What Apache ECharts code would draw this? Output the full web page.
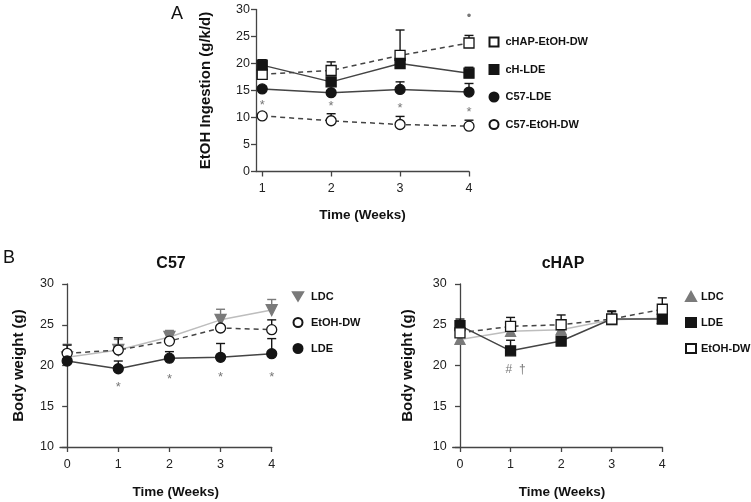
<!DOCTYPE html>
<html><head><meta charset="utf-8">
<script src="https://cdn.jsdelivr.net/npm/echarts@6/dist/echarts.min.js"></script>
<style>html,body{margin:0;padding:0;background:#fff}#c{width:751px;height:502px}</style>
</head><body><div id="c"></div>
<script>
// ---------- Panel A: EtOH ingestion ----------
const weeksA = [1, 2, 3, 4];
const aCHAPDW = [18.0, 18.7, 21.5, 23.8];
const aCHAPDWErr = [0.4, 1.6, 4.7, 1.4];
const aCHLDE = [19.7, 16.6, 20.0, 18.2];
const aCHLDEErr = [1.0, 0.4, 0.4, 1.1];
const aC57LDE = [15.3, 14.6, 15.2, 14.7];
const aC57LDEErr = [0.4, 0.4, 1.4, 1.6];
const aC57DW = [10.3, 9.4, 8.7, 8.4];
const aC57DWErr = [0.5, 1.3, 1.5, 1.1];
const aNoteX = [1, 2, 3, 4, 4];
const aNoteY = [12.3, 12.1, 11.6, 11.0, 28.8];
const aNoteText = ['*', '*', '*', '*', '\u2022'];
const aTicks = [1, 2, 3, 4];

// ---------- Panel B: body weight ----------
const weeksB = [0, 1, 2, 3, 4];
const bTicks = [0, 1, 2, 3, 4];
// C57
const c57LDC = [21.0, 21.9, 23.5, 25.6, 26.8];
const c57LDCErr = [1.6, 1.3, 0.8, 1.3, 1.3];
const c57DW = [21.5, 21.9, 23.0, 24.6, 24.4];
const c57DWErr = [1.0, 1.5, 1.1, 0.3, 1.2];
const c57LDE = [20.55, 19.6, 20.9, 21.0, 21.45];
const c57LDEErr = [0.3, 0.95, 0.8, 1.7, 1.85];
const c57NoteX = [1, 2, 3, 4];
const c57NoteY = [17.3, 18.3, 18.5, 18.5];
const c57NoteText = ['*', '*', '*', '*'];
// cHAP
const chapLDC = [23.2, 24.2, 24.4, 25.6, 25.8];
const chapLDCErr = [0.3, 0.3, 0.3, 0.5, 0.3];
const chapLDE = [24.9, 21.8, 23.0, 25.7, 25.7];
const chapLDEErr = [0.8, 1.3, 0.5, 1.0, 0.4];
const chapDW = [24.0, 24.8, 25.0, 25.7, 26.9];
const chapDWErr = [0.5, 1.1, 1.2, 0.9, 1.4];
const chapNoteX = [1.1];
const chapNoteY = [19.5];
const chapNoteText = ['#  \u2020'];

const FONT = '"Liberation Sans", Arial, sans-serif';
const DARK = '#151515';
const LINE = '#444';
const GREYM = '#7a7a7a';
const GREYL = '#bdbdbd';

function pts(xs, ys) { return xs.map((x, i) => [x, ys[i]]); }
function errPts(xs, ys, es) { return xs.map((x, i) => [x, ys[i], ys[i] + es[i]]); }

function errSeries(gi, xs, ys, es, color) {
  return {
    type: 'custom', xAxisIndex: gi, yAxisIndex: gi, z: 1, silent: true,
    data: errPts(xs, ys, es), encode: { x: 0, y: [1, 2] },
    renderItem: function (params, api) {
      const p0 = api.coord([api.value(0), api.value(1)]);
      const p1 = api.coord([api.value(0), api.value(2)]);
      const w = 4.5;
      return { type: 'group', children: [
        { type: 'line', shape: { x1: p0[0], y1: p0[1], x2: p1[0], y2: p1[1] }, style: { stroke: color, lineWidth: 1.4 } },
        { type: 'line', shape: { x1: p1[0] - w, y1: p1[1], x2: p1[0] + w, y2: p1[1] }, style: { stroke: color, lineWidth: 1.4 } }
      ]};
    }
  };
}
function noteSeries(gi, xs, ys, texts, size) {
  return {
    type: 'custom', xAxisIndex: gi, yAxisIndex: gi, z: 5, silent: true,
    data: pts(xs, ys), encode: { x: 0, y: 1 },
    renderItem: function (params, api) {
      const p = api.coord([api.value(0), api.value(1)]);
      return { type: 'text', x: p[0], y: p[1], style: {
        text: texts[params.dataIndex], fill: '#777', font: (size || 13) + 'px ' + FONT,
        align: 'center', verticalAlign: 'middle' } };
    }
  };
}
function lineSeries(gi, name, xs, ys, symbol, fill, border, lineColor, dashed, size) {
  return {
    type: 'line', name: name, xAxisIndex: gi, yAxisIndex: gi, z: 3,
    data: pts(xs, ys), symbol: symbol, symbolSize: size || 9, showAllSymbol: true,
    itemStyle: { color: fill, borderColor: border, borderWidth: 1.3 },
    lineStyle: { color: lineColor, width: 1.5, type: dashed ? [5, 4] : 'solid' },
    emphasis: { disabled: true }, animation: false
  };
}
const TRI_DOWN = 'path://M0,0L12,0L6,10Z';

function xAxis(gi, min, max, ticks) {
  return {
    type: 'value', gridIndex: gi, min: min, max: max,
    axisLine: { lineStyle: { color: LINE, width: 1.3 } },
    axisTick: { show: true, length: 5, customValues: ticks, lineStyle: { color: LINE, width: 1.3 } },
    axisLabel: { customValues: ticks, color: '#222', fontSize: 12.5, fontFamily: FONT, margin: 11 },
    splitLine: { show: false },
    name: 'Time (Weeks)', nameLocation: 'middle', nameGap: 37,
    nameTextStyle: { fontFamily: FONT, fontWeight: 'bold', fontSize: 13.5, color: '#111' }
  };
}
function yAxis(gi, min, max, interval, name, gap) {
  return {
    type: 'value', gridIndex: gi, min: min, max: max, interval: interval,
    axisLine: { show: true, lineStyle: { color: LINE, width: 1.3 } },
    axisTick: { show: true, length: 5, lineStyle: { color: LINE, width: 1.3 } },
    axisLabel: { color: '#222', fontSize: 12.5, fontFamily: FONT, margin: 6 },
    splitLine: { show: false },
    name: name, nameLocation: 'middle', nameRotate: 90, nameGap: gap,
    nameTextStyle: { fontFamily: FONT, fontWeight: 'bold', fontSize: 15, color: '#111' }
  };
}

const xa0 = xAxis(0, 0.91, 4, aTicks);
const xa1 = xAxis(1, -0.14, 4, bTicks); xa1.nameGap = 38; xa1.nameTextStyle.padding = [0, 0, 0, 20];
const xa2 = xAxis(2, -0.144, 4, bTicks); xa2.nameGap = 38; xa2.nameTextStyle.padding = [0, 0, 0, 9];

const legendText = { fontFamily: FONT, fontWeight: 'bold', fontSize: 11, color: '#111' };

const option = {
  backgroundColor: '#fff',
  animation: false,
  title: [
    { text: 'A', left: 166, top: 0, textStyle: { fontFamily: FONT, fontWeight: 'normal', fontSize: 18, color: '#111' } },
    { text: 'B', left: -2, top: 244, textStyle: { fontFamily: FONT, fontWeight: 'normal', fontSize: 18, color: '#111' } },
    { text: 'C57', left: 166, top: 251, textAlign: 'center', textStyle: { fontFamily: FONT, fontWeight: 'bold', fontSize: 16, color: '#111' } },
    { text: 'cHAP', left: 558, top: 251, textAlign: 'center', textStyle: { fontFamily: FONT, fontWeight: 'bold', fontSize: 16, color: '#111' } }
  ],
  grid: [
    { left: 256, right: 282, top: 9.5, bottom: 330.5 },
    { left: 60, right: 479.3, top: 284, bottom: 55 },
    { left: 452.7, right: 88.7, top: 284, bottom: 55 }
  ],
  xAxis: [xa0, xa1, xa2],
  yAxis: [
    yAxis(0, 0, 30, 5, 'EtOH Ingestion (g/k/d)', 43),
    yAxis(1, 10, 30, 5, 'Body weight (g)', 34),
    yAxis(2, 10, 30, 5, 'Body weight (g)', 37)
  ],
  legend: [
    { orient: 'vertical', left: 483.5, top: 31.5, itemWidth: 9, itemHeight: 9, itemGap: 16.5,
      textStyle: Object.assign({}, legendText, { padding: [0, 0, 0, 2] }), selectedMode: false,
      data: [{ name: 'cHAP-EtOH-DW', icon: 'rect' }, { name: 'cH-LDE', icon: 'rect' },
             { name: 'C57-LDE', icon: 'circle' }, { name: 'C57-EtOH-DW', icon: 'circle' }] },
    { orient: 'vertical', left: 287, top: 286, itemWidth: 10, itemHeight: 9, itemGap: 15,
      textStyle: Object.assign({}, legendText, { padding: [0, 0, 0, 3] }), selectedMode: false,
      formatter: n => n.replace('C57 ', ''),
      data: [{ name: 'C57 LDC', icon: TRI_DOWN }, { name: 'C57 EtOH-DW', icon: 'circle' }, { name: 'C57 LDE', icon: 'circle' }] },
    { orient: 'vertical', left: 680, top: 286, itemWidth: 10, itemHeight: 9, itemGap: 15,
      textStyle: legendText, selectedMode: false,
      formatter: n => n.replace('cHAP ', ''),
      data: [{ name: 'cHAP LDC', icon: 'triangle' }, { name: 'cHAP LDE', icon: 'rect' }, { name: 'cHAP EtOH-DW', icon: 'rect' }] }
  ],
  series: [
    // Panel A
    errSeries(0, weeksA, aCHAPDW, aCHAPDWErr, DARK),
    errSeries(0, weeksA, aCHLDE, aCHLDEErr, DARK),
    errSeries(0, weeksA, aC57LDE, aC57LDEErr, DARK),
    errSeries(0, weeksA, aC57DW, aC57DWErr, DARK),
    lineSeries(0, 'cHAP-EtOH-DW', weeksA, aCHAPDW, 'rect', '#fff', DARK, LINE, true, 10),
    lineSeries(0, 'cH-LDE', weeksA, aCHLDE, 'rect', DARK, DARK, LINE, false, 10),
    lineSeries(0, 'C57-LDE', weeksA, aC57LDE, 'circle', DARK, DARK, LINE, false, 10),
    lineSeries(0, 'C57-EtOH-DW', weeksA, aC57DW, 'circle', '#fff', DARK, LINE, true, 10),
    noteSeries(0, aNoteX, aNoteY, aNoteText, 13),
    // Panel B C57
    errSeries(1, weeksB, c57LDC, c57LDCErr, GREYM),
    errSeries(1, weeksB, c57DW, c57DWErr, DARK),
    errSeries(1, weeksB, c57LDE, c57LDEErr, DARK),
    lineSeries(1, 'C57 LDC', weeksB, c57LDC, TRI_DOWN, GREYM, GREYM, GREYL, false, 11),
    lineSeries(1, 'C57 EtOH-DW', weeksB, c57DW, 'circle', '#fff', DARK, LINE, true, 10),
    lineSeries(1, 'C57 LDE', weeksB, c57LDE, 'circle', DARK, DARK, LINE, false, 10),
    noteSeries(1, c57NoteX, c57NoteY, c57NoteText, 13),
    // Panel B cHAP
    errSeries(2, weeksB, chapLDC, chapLDCErr, GREYM),
    errSeries(2, weeksB, chapLDE, chapLDEErr, DARK),
    errSeries(2, weeksB, chapDW, chapDWErr, DARK),
    lineSeries(2, 'cHAP LDC', weeksB, chapLDC, 'triangle', GREYM, GREYM, GREYL, false, 10),
    lineSeries(2, 'cHAP LDE', weeksB, chapLDE, 'rect', DARK, DARK, LINE, false, 10),
    lineSeries(2, 'cHAP EtOH-DW', weeksB, chapDW, 'rect', '#fff', DARK, LINE, true, 10),
    noteSeries(2, chapNoteX, chapNoteY, chapNoteText, 12)
  ]
};
const chart = echarts.init(document.getElementById('c'), null, { renderer: 'canvas' });
chart.setOption(option);
</script>
</body></html>
